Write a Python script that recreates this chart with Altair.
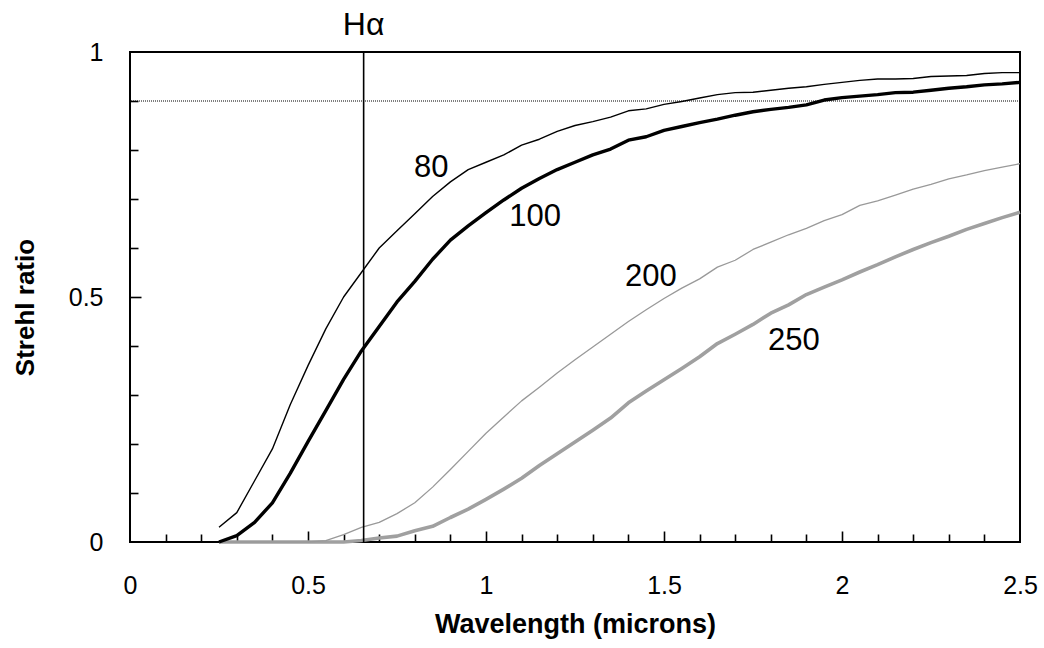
import altair as alt
import pandas as pd

# ---- data ----
wavelength = [0.25, 0.30, 0.35, 0.40, 0.45, 0.50, 0.55, 0.60, 0.65, 0.70,
              0.75, 0.80, 0.85, 0.90, 0.95, 1.00, 1.05, 1.10, 1.15, 1.20,
              1.25, 1.30, 1.35, 1.40, 1.45, 1.50, 1.55, 1.60, 1.65, 1.70,
              1.75, 1.80, 1.85, 1.90, 1.95, 2.00, 2.05, 2.10, 2.15, 2.20,
              2.25, 2.30, 2.35, 2.40, 2.45, 2.50]

strehl_80 = [0.03, 0.06, 0.125, 0.19, 0.28, 0.36, 0.435, 0.50, 0.55, 0.60,
             0.635, 0.67, 0.705, 0.735, 0.76, 0.775, 0.79, 0.81, 0.822, 0.838,
             0.85, 0.858, 0.867, 0.88, 0.884, 0.893, 0.899, 0.906, 0.913, 0.917,
             0.918, 0.922, 0.926, 0.929, 0.934, 0.938, 0.942, 0.945, 0.945, 0.946,
             0.95, 0.951, 0.952, 0.956, 0.958, 0.958]

strehl_100 = [0.0, 0.013, 0.04, 0.08, 0.14, 0.205, 0.268, 0.332, 0.39, 0.44,
              0.49, 0.532, 0.577, 0.616, 0.645, 0.672, 0.698, 0.722, 0.742, 0.76,
              0.775, 0.79, 0.802, 0.82, 0.827, 0.84, 0.848, 0.856, 0.863, 0.871,
              0.878, 0.883, 0.887, 0.892, 0.902, 0.907, 0.91, 0.913, 0.917, 0.918,
              0.922, 0.926, 0.929, 0.933, 0.935, 0.938]

strehl_200 = [0.0, 0.0, 0.0, 0.0, 0.0, 0.0, 0.003, 0.015, 0.03, 0.04,
              0.058, 0.08, 0.112, 0.148, 0.185, 0.222, 0.255, 0.288, 0.316, 0.345,
              0.372, 0.398, 0.424, 0.45, 0.474, 0.497, 0.518, 0.537, 0.561, 0.575,
              0.597, 0.612, 0.627, 0.64, 0.656, 0.668, 0.687, 0.696, 0.708, 0.72,
              0.73, 0.741, 0.749, 0.758, 0.765, 0.772]

strehl_250 = [0.0, 0.0, 0.0, 0.0, 0.0, 0.0, 0.0, 0.0, 0.003, 0.008,
              0.012, 0.023, 0.032, 0.05, 0.067, 0.087, 0.108, 0.13, 0.156, 0.18,
              0.204, 0.228, 0.253, 0.284, 0.308, 0.331, 0.354, 0.378, 0.405, 0.424,
              0.444, 0.467, 0.484, 0.505, 0.52, 0.535, 0.551, 0.566, 0.582, 0.597,
              0.611, 0.624, 0.638, 0.65, 0.662, 0.673]

series_names = ["250", "200", "100", "80"]
series_values = [strehl_250, strehl_200, strehl_100, strehl_80]
series_colors = ["#a0a0a0", "#999999", "#000000", "#000000"]
series_widths = [3.6, 1.3, 3.4, 1.4]

# curve annotations (text, wavelength, strehl)
label_text = ["80", "100", "200", "250"]
label_x = [0.846, 1.138, 1.463, 1.865]
label_y = [0.763, 0.663, 0.541, 0.410]

h_alpha = [0.6563]
h_alpha_label_y = [1.055]
strehl_level = [0.9]

x_label_values = [0, 0.5, 1, 1.5, 2, 2.5]
y_label_values = [0, 0.5, 1]
x_minor_ticks = [0.1, 0.2, 0.3, 0.4, 0.6, 0.7, 0.8, 0.9, 1.1, 1.2, 1.3, 1.4,
                 1.6, 1.7, 1.8, 1.9, 2.1, 2.2, 2.3, 2.4]
x_major_ticks = [0.5, 1, 1.5, 2]
y_minor_ticks = [0.1, 0.2, 0.3, 0.4, 0.6, 0.7, 0.8, 0.9]
y_major_ticks = [0.5]

# ---- tables ----
labels_df = pd.DataFrame({"text": label_text, "lx": label_x, "ly": label_y})
ha_df = pd.DataFrame({"ha": h_alpha})
ha_label_df = pd.DataFrame({"ha": h_alpha, "hy": h_alpha_label_y, "t": ["H\u03b1"]})
level_df = pd.DataFrame({"level": strehl_level})

FONT = "Liberation Sans"
W, H = 890, 490
xscale = alt.Scale(domain=[0, 2.5], nice=False, zero=False)
yscale = alt.Scale(domain=[0, 1], nice=False, zero=False)

x_label_axis = alt.Axis(orient="bottom", values=x_label_values, format="~g",
                        ticks=False, tickSize=0, domain=False, grid=False,
                        labelPadding=31, labelFont=FONT, labelFontSize=25,
                        labelColor="black", labelFlush=False, labelOverlap=False,
                        title="Wavelength (microns)", titleFont=FONT, titleFontSize=27,
                        titleFontWeight="bold", titleColor="black",
                        titleBaseline="alphabetic", titleAlign="center",
                        titleX=W / 2, titleY=90)
y_label_axis = alt.Axis(orient="left", values=y_label_values, format="~g",
                        ticks=False, tickSize=0, domain=False, grid=False,
                        labelPadding=27, labelFont=FONT, labelFontSize=25,
                        labelColor="black", labelFlush=False, labelOverlap=False,
                        labelBaseline="middle",
                        title="Strehl ratio", titleFont=FONT, titleFontSize=26,
                        titleFontWeight="bold", titleColor="black", titleAngle=270,
                        titleBaseline="alphabetic", titleAlign="center",
                        titleX=-97, titleY=255)


def tick_axis(orient, offset, values, size):
    return alt.Axis(orient=orient, offset=offset, values=values, labels=False,
                    domain=False, grid=False, ticks=True, tickSize=size,
                    tickWidth=1.6, tickColor="black", title=None)


line_layers = []
for i, (name, vals, col, sw) in enumerate(zip(series_names, series_values,
                                              series_colors, series_widths)):
    df = pd.DataFrame({"wavelength": wavelength, "strehl": vals})
    first = i == 0
    line_layers.append(
        alt.Chart(df).mark_line(color=col, strokeWidth=sw, strokeJoin="round").encode(
            x=alt.X("wavelength:Q", scale=xscale, axis=x_label_axis if first else None),
            y=alt.Y("strehl:Q", scale=yscale, axis=y_label_axis if first else None),
            order=alt.Order("wavelength:Q"),
        )
    )

ha_rule = alt.Chart(ha_df).mark_rule(color="black", strokeWidth=1.6).encode(
    x=alt.X("ha:Q", scale=xscale, axis=tick_axis("top", -H, x_minor_ticks, 8)),
)

level_rule = alt.Chart(level_df).mark_rule(color="black", strokeWidth=1.2, strokeDash=[1, 1]).encode(
    y=alt.Y("level:Q", scale=yscale, axis=tick_axis("right", -W, y_minor_ticks, 8)),
)

curve_labels = alt.Chart(labels_df).mark_text(font=FONT, fontSize=31, color="black",
                                              align="center", baseline="middle").encode(
    x=alt.X("lx:Q", scale=xscale, axis=tick_axis("top", -H, x_major_ticks, 11)),
    y=alt.Y("ly:Q", scale=yscale, axis=tick_axis("right", -W, y_major_ticks, 11)),
    text="text:N",
)

ha_label = alt.Chart(ha_label_df).mark_text(font=FONT, fontSize=32, color="black",
                                            align="center", baseline="middle").encode(
    x=alt.X("ha:Q", scale=xscale, axis=None),
    y=alt.Y("hy:Q", scale=yscale, axis=None),
    text="t:N",
)

chart = alt.layer(*line_layers, level_rule, ha_rule, curve_labels, ha_label).resolve_axis(
    x="independent", y="independent"
).properties(
    width=W, height=H,
    autosize=alt.AutoSizeParams(type="none"),
    padding={"left": 130, "top": 52, "right": 24, "bottom": 106},
    background="white",
).configure_view(stroke="black", strokeWidth=2)

chart.save("out.html", embed_options={"renderer": "svg", "actions": False})
